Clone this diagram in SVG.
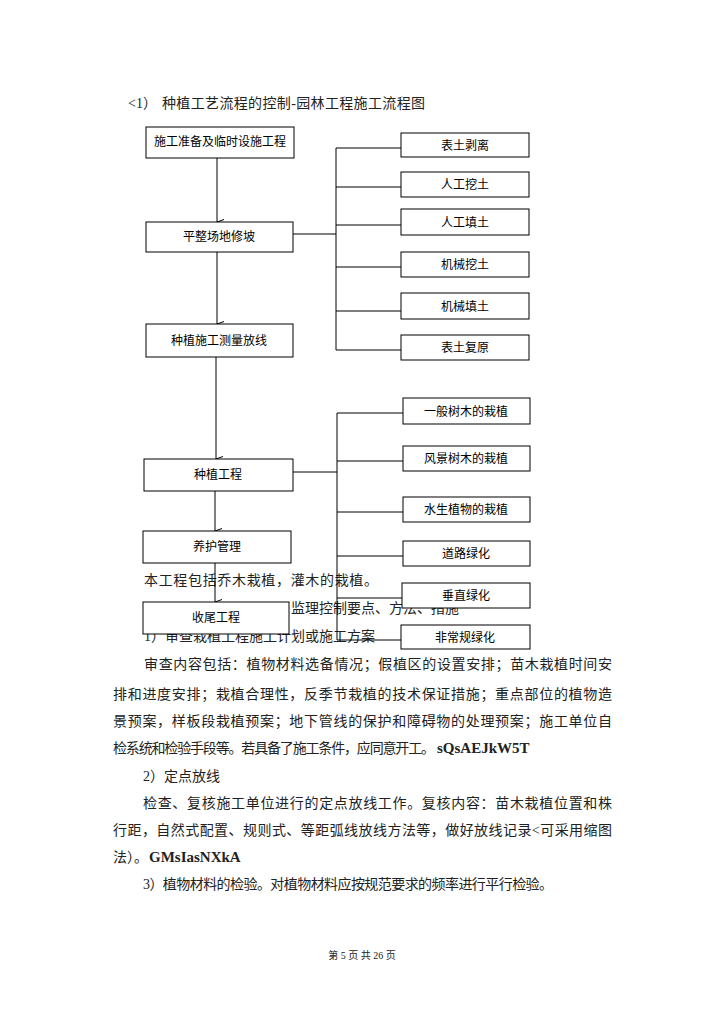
<svg xmlns="http://www.w3.org/2000/svg" width="724" height="1024" viewBox="0 0 724 1024">
<style>
.bg{fill:#fff}
.box{fill:#fff;stroke:#000;stroke-width:1}
.bt{font-family:"Noto Sans CJK SC","Noto Sans",sans-serif;font-size:12px;fill:#000;text-anchor:middle}
.body{font-family:"Liberation Serif","Noto Sans CJK SC",serif;font-size:14px;fill:#222}
.lat{font-family:"Liberation Serif",serif;font-weight:bold;font-size:15px}
.ln{fill:none;stroke:#000;stroke-width:1}
.ar{fill:none;stroke:#000;stroke-width:1;marker-end:url(#v)}
</style>
<defs>
<marker id="v" viewBox="0 0 8 10" refX="4" refY="10" markerWidth="8" markerHeight="10" markerUnits="userSpaceOnUse" orient="auto-start-reverse">
<path d="M1.5,3 L4,10 L6.5,3" fill="none" stroke="#000" stroke-width="1"/>
</marker>
</defs>
<rect class="bg" x="0" y="0" width="724" height="1024"/>
<g id="texts">
<text class="body" x="128" y="108">&lt;1）<tspan x="162" textLength="263" lengthAdjust="spacing">种植工艺流程的控制-园林工程施工流程图</tspan></text>
<text class="body" x="144" y="585" textLength="234" lengthAdjust="spacing">本工程包括乔木栽植，灌木的栽植。</text>
<text class="body" x="291" y="613">监理控制要点、方法、措施</text>
<text class="body" x="144" y="641">1）审查栽植工程施工计划或施工方案</text>
<text class="body" x="144" y="669" textLength="468" lengthAdjust="spacing">审查内容包括：植物材料选备情况；假植区的设置安排；苗木栽植时间安</text>
<text class="body" x="113" y="699" textLength="499" lengthAdjust="spacing">排和进度安排；栽植合理性，反季节栽植的技术保证措施；重点部位的植物造</text>
<text class="body" x="113" y="726" textLength="499" lengthAdjust="spacing">景预案，样板段栽植预案；地下管线的保护和障碍物的处理预案；施工单位自</text>
<text class="body" x="113" y="753"><tspan textLength="322" lengthAdjust="spacing">检系统和检验手段等。若具备了施工条件，应同意开工。</tspan><tspan class="lat" x="437">sQsAEJkW5T</tspan></text>
<text class="body" x="143" y="781">2）定点放线</text>
<text class="body" x="143" y="808" textLength="469" lengthAdjust="spacing">检查、复核施工单位进行的定点放线工作。复核内容：苗木栽植位置和株</text>
<text class="body" x="113" y="835" textLength="499" lengthAdjust="spacing">行距，自然式配置、规则式、等距弧线放线方法等，做好放线记录&lt;可采用缩图</text>
<text class="body" x="113" y="862">法）。<tspan class="lat" x="149">GMsIasNXkA</tspan></text>
<text class="body" x="143" y="889" textLength="410" lengthAdjust="spacing">3）植物材料的检验。对植物材料应按规范要求的频率进行平行检验。</text>
<text class="body" x="362" y="959" text-anchor="middle" style="font-size:10px">第 5 页 共 26 页</text>
</g>
<g id="connectors">
<line class="ar" x1="217" y1="158" x2="217" y2="222"/>
<line class="ar" x1="217" y1="252" x2="217" y2="324"/>
<line class="ar" x1="216" y1="357" x2="216" y2="459"/>
<line class="ar" x1="215" y1="491" x2="215" y2="531"/>
<line class="ar" x1="215" y1="563" x2="215" y2="602"/>
<path class="ln" d="M293,234 H336 M336,148 V350 M336,148 H401 M336,187 H401 M336,225 H401 M336,267 H401 M336,311 H401 M336,350 H401"/>
<path class="ln" d="M293,472 H337 M337,413 V640 M337,413 H403 M337,461 H403 M337,512 H403 M337,556 H403 M337,598 H402 M337,640 H401"/>
</g>
<g id="n1"><rect class="box" x="146" y="127" width="148" height="31"/><text class="bt" x="220" y="146">施工准备及临时设施工程</text></g>
<g id="n2"><rect class="box" x="146" y="222" width="147" height="30"/><text class="bt" x="219" y="241">平整场地修坡</text></g>
<g id="n3"><rect class="box" x="146" y="324" width="147" height="33"/><text class="bt" x="219" y="345">种植施工测量放线</text></g>
<g id="n4"><rect class="box" x="144" y="459" width="149" height="32"/><text class="bt" x="218" y="479">种植工程</text></g>
<g id="n5"><rect class="box" x="143" y="531" width="148" height="32"/><text class="bt" x="217" y="551">养护管理</text></g>
<g id="n6"><rect class="box" x="143" y="602" width="146" height="32"/><text class="bt" x="216" y="622">收尾工程</text></g>
<g id="r1"><rect class="box" x="401" y="133" width="128" height="24"/><text class="bt" x="465" y="150">表土剥离</text></g>
<g id="r2"><rect class="box" x="401" y="172" width="128" height="25"/><text class="bt" x="465" y="189">人工挖土</text></g>
<g id="r3"><rect class="box" x="401" y="209" width="128" height="26"/><text class="bt" x="465" y="227">人工填土</text></g>
<g id="r4"><rect class="box" x="401" y="252" width="128" height="25"/><text class="bt" x="465" y="269">机械挖土</text></g>
<g id="r5"><rect class="box" x="401" y="293" width="128" height="26"/><text class="bt" x="465" y="311">机械填土</text></g>
<g id="r6"><rect class="box" x="401" y="335" width="128" height="25"/><text class="bt" x="465" y="352">表土复原</text></g>
<g id="s1"><rect class="box" x="403" y="398" width="127" height="26"/><text class="bt" x="466" y="416">一般树木的栽植</text></g>
<g id="s2"><rect class="box" x="403" y="446" width="127" height="25"/><text class="bt" x="466" y="463">风景树木的栽植</text></g>
<g id="s3"><rect class="box" x="403" y="497" width="127" height="25"/><text class="bt" x="466" y="514">水生植物的栽植</text></g>
<g id="s4"><rect class="box" x="403" y="541" width="127" height="25"/><text class="bt" x="466" y="558">道路绿化</text></g>
<g id="s5"><rect class="box" x="402" y="583" width="128" height="25"/><text class="bt" x="466" y="600">垂直绿化</text></g>
<g id="s6"><rect class="box" x="401" y="625" width="129" height="24"/><text class="bt" x="465" y="642">非常规绿化</text></g>
</svg>
